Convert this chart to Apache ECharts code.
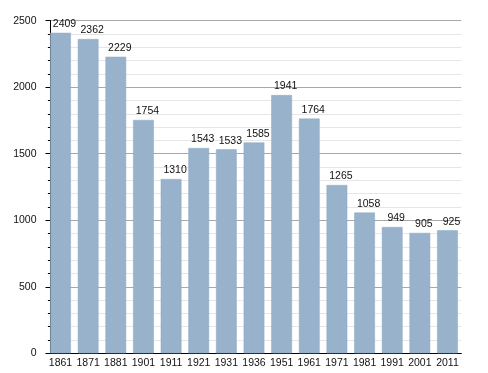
<!DOCTYPE html>
<html>
<head>
<meta charset="utf-8">
<script src="https://cdn.jsdelivr.net/npm/echarts@6/dist/echarts.min.js"></script>
<style>html,body{margin:0;padding:0;background:#fff}#c{width:488px;height:373px}</style>
</head>
<body>
<div id="c"></div>
<script>
const years = ['1861','1871','1881','1901','1911','1921','1931','1936','1951','1961','1971','1981','1991','2001','2011'];
const population = [2409,2362,2229,1754,1310,1543,1533,1585,1941,1764,1265,1058,949,905,925];
const yTicks = [0,500,1000,1500,2000,2500];

const chart = echarts.init(document.getElementById('c'), null, {renderer:'canvas'});
chart.setOption({
  animation: false,
  backgroundColor: '#fff',
  textStyle: {fontFamily: 'Liberation Sans, Arial, sans-serif'},
  grid: {left: 46.7, top: 20.7, width: 414.6, height: 332.6, containLabel: false},
  xAxis: {
    type: 'category',
    data: years,
    axisLine: {show: true, lineStyle: {color: '#000', width: 1}},
    axisTick: {show: false},
    axisLabel: {color: '#111', fontSize: 10.5, margin: 4, interval: 0}
  },
  yAxis: {
    type: 'value',
    min: yTicks[0],
    max: yTicks[yTicks.length-1],
    interval: 500,
    offset: -3.8,
    axisLine: {show: true, lineStyle: {color: '#000', width: 1}},
    axisTick: {show: true, length: 5, lineStyle: {color: '#000'}},
    minorTick: {show: true, splitNumber: 5, length: 2.5, lineStyle: {color: '#000'}},
    splitLine: {show: true, lineStyle: {color: '#a8a8a8', width: 1}},
    minorSplitLine: {show: true, lineStyle: {color: '#e6e6e6', width: 1}},
    axisLabel: {color: '#111', fontSize: 10.5, margin: 14, formatter: v => String(v)}
  },
  series: [{
    type: 'bar',
    data: population,
    barWidth: 20.7,
    itemStyle: {color: '#98b2cc', borderColor: '#8ea8c2', borderWidth: 0.5},
    label: {show: true, position: 'top', distance: 3, offset: [4, 0], color: '#111', fontSize: 10.5}
  }]
});
</script>
</body>
</html>
